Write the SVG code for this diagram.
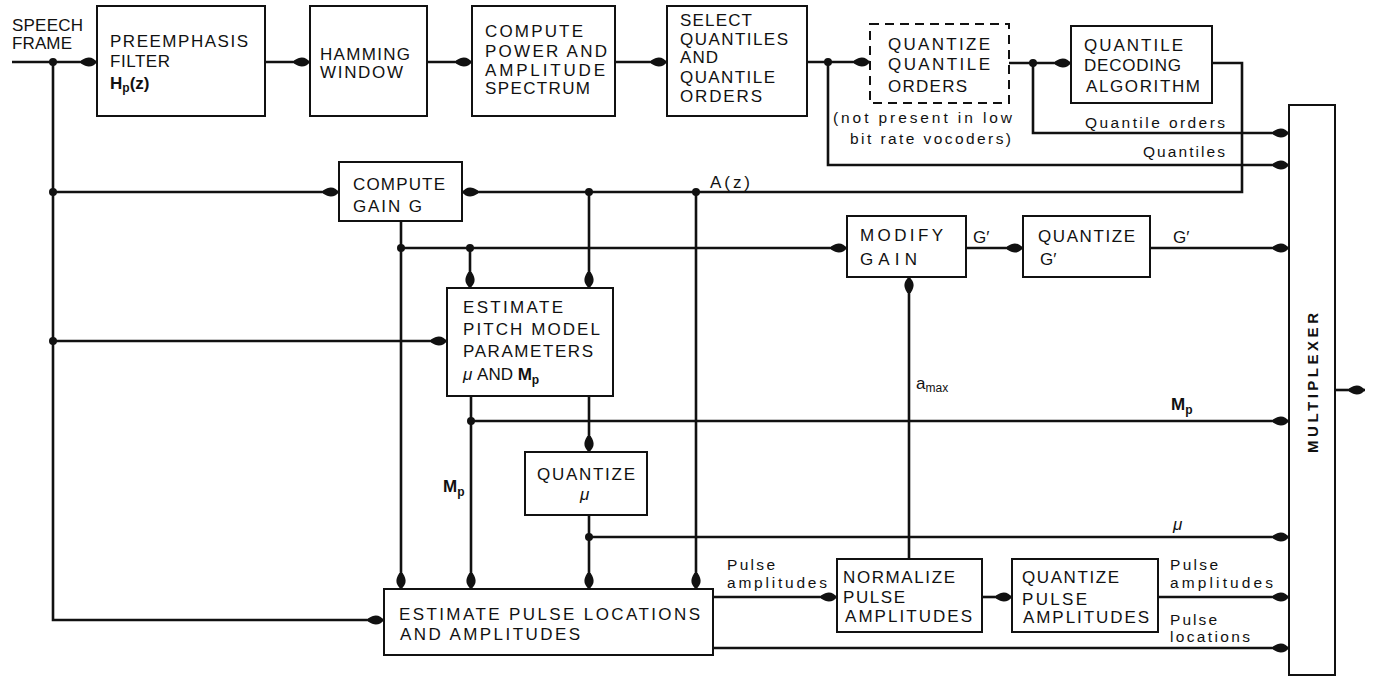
<svg xmlns="http://www.w3.org/2000/svg" width="1373" height="677" viewBox="0 0 1373 677">
<style>
.box{fill:#fff;stroke:#111;stroke-width:2}
.dash{fill:#fff;stroke:#111;stroke-width:2;stroke-dasharray:9 6}
.ln{fill:none;stroke:#111;stroke-width:2.6}
.t{font-family:"Liberation Sans",Arial,sans-serif;font-size:17px;fill:#111}
.s{font-family:"Liberation Sans",Arial,sans-serif;font-size:15.5px;fill:#111}
.b{font-family:"Liberation Sans",Arial,sans-serif;font-size:15px;font-weight:bold;fill:#111}
.m{font-weight:bold}
.sub{font-size:12px}
.dot{fill:#111}
</style>
<defs>
<marker id="arr" viewBox="-17 -7 18 14" refX="0" refY="0" markerWidth="18" markerHeight="14" orient="auto" markerUnits="userSpaceOnUse">
<path d="M0,0 C-4,-5 -9,-6.5 -16,-1.6 L-16,1.6 C-9,6.5 -4,5 0,0 Z" fill="#111"/>
</marker>
</defs>
<rect width="1373" height="677" fill="#fff"/>

<g id="connectors">
<path class="ln" d="M12,62 H97" marker-end="url(#arr)"/>
<path class="ln" d="M53,62 V620 H384" marker-end="url(#arr)"/>
<path class="ln" d="M53,192 H339" marker-end="url(#arr)"/>
<path class="ln" d="M53,341 H447" marker-end="url(#arr)"/>
<path class="ln" d="M265,62 H310" marker-end="url(#arr)"/>
<path class="ln" d="M427,62 H472" marker-end="url(#arr)"/>
<path class="ln" d="M615,62 H667" marker-end="url(#arr)"/>
<path class="ln" d="M807,62 H870" marker-end="url(#arr)"/>
<path class="ln" d="M828,62 V165 H1289" marker-end="url(#arr)"/>
<path class="ln" d="M1009,63 H1071" marker-end="url(#arr)"/>
<path class="ln" d="M1033,63 V133 H1289" marker-end="url(#arr)"/>
<path class="ln" d="M1212,63 H1242 V192 H462" marker-end="url(#arr)"/>
<path class="ln" d="M589,192 V288" marker-end="url(#arr)"/>
<path class="ln" d="M696,192 V589" marker-end="url(#arr)"/>
<path class="ln" d="M401,221 V589" marker-end="url(#arr)"/>
<path class="ln" d="M401,248 H847" marker-end="url(#arr)"/>
<path class="ln" d="M470,248 V288" marker-end="url(#arr)"/>
<path class="ln" d="M471,396 V589" marker-end="url(#arr)"/>
<path class="ln" d="M471,421 H1289" marker-end="url(#arr)"/>
<path class="ln" d="M589,396 V452" marker-end="url(#arr)"/>
<path class="ln" d="M589,515 V589" marker-end="url(#arr)"/>
<path class="ln" d="M589,537 H1289" marker-end="url(#arr)"/>
<path class="ln" d="M713,597 H837" marker-end="url(#arr)"/>
<path class="ln" d="M982,597 H1012" marker-end="url(#arr)"/>
<path class="ln" d="M1158,597 H1289" marker-end="url(#arr)"/>
<path class="ln" d="M713,648 H1289" marker-end="url(#arr)"/>
<path class="ln" d="M909,559 V277" marker-end="url(#arr)"/>
<path class="ln" d="M966,248 H1023" marker-end="url(#arr)"/>
<path class="ln" d="M1150,248 H1289" marker-end="url(#arr)"/>
<path class="ln" d="M1335,390 H1365" marker-end="url(#arr)"/>
<circle class="dot" cx="53" cy="62" r="4"/>
<circle class="dot" cx="53" cy="192" r="4"/>
<circle class="dot" cx="53" cy="341" r="4"/>
<circle class="dot" cx="828" cy="62" r="4"/>
<circle class="dot" cx="1033" cy="63" r="4"/>
<circle class="dot" cx="589" cy="192" r="4"/>
<circle class="dot" cx="696" cy="192" r="4"/>
<circle class="dot" cx="401" cy="248" r="4"/>
<circle class="dot" cx="470" cy="248" r="4"/>
<circle class="dot" cx="471" cy="421" r="4"/>
<circle class="dot" cx="589" cy="537" r="4"/>
</g>

<g id="labels">
<text class="t" x="12" y="31" textLength="71">SPEECH</text>
<text class="t" x="12" y="49" textLength="60">FRAME</text>
<text class="s" x="833" y="123" textLength="179">(not present in low</text>
<text class="s" x="850" y="144" textLength="161">bit rate vocoders)</text>
<text class="s" x="1085" y="128" textLength="140">Quantile orders</text>
<text class="s" x="1143" y="157" textLength="82">Quantiles</text>
<text class="t" x="710" y="188" textLength="40">A(z)</text>
<text class="t" x="973" y="243">G′</text>
<text class="t" x="1173" y="243">G′</text>
<text class="t" x="916" y="389">a<tspan class="sub" dy="3">max</tspan></text>
<text class="t m" x="1171" y="410">M<tspan class="sub" dy="4">p</tspan></text>
<text class="t m" x="443" y="492">M<tspan class="sub" dy="4">p</tspan></text>
<text class="t" x="1173" y="530" font-style="italic">μ</text>
<text class="s" x="727" y="570" textLength="48">Pulse</text>
<text class="s" x="727" y="588" textLength="100">amplitudes</text>
<text class="s" x="1170" y="570" textLength="48">Pulse</text>
<text class="s" x="1170" y="588" textLength="103">amplitudes</text>
<text class="s" x="1170" y="625" textLength="47">Pulse</text>
<text class="s" x="1170" y="642" textLength="80">locations</text>
</g>

<g id="preemphasis">
<rect class="box" x="97" y="6" width="168" height="110"/>
<text class="t" x="110" y="47" textLength="138">PREEMPHASIS</text>
<text class="t" x="110" y="67" textLength="60">FILTER</text>
<text class="t m" x="110" y="89">H<tspan class="sub" dy="3">p</tspan><tspan dy="-3">(z)</tspan></text>
</g>
<g id="hamming">
<rect class="box" x="310" y="6" width="117" height="110"/>
<text class="t" x="320" y="60" textLength="90">HAMMING</text>
<text class="t" x="320" y="78" textLength="83">WINDOW</text>
</g>
<g id="compute-power">
<rect class="box" x="472" y="6" width="143" height="110"/>
<text class="t" x="485" y="37" textLength="98">COMPUTE</text>
<text class="t" x="485" y="57" textLength="122">POWER AND</text>
<text class="t" x="485" y="76" textLength="120">AMPLITUDE</text>
<text class="t" x="485" y="94" textLength="105">SPECTRUM</text>
</g>
<g id="select-quantiles">
<rect class="box" x="667" y="6" width="140" height="110"/>
<text class="t" x="680" y="26" textLength="72">SELECT</text>
<text class="t" x="680" y="45" textLength="108">QUANTILES</text>
<text class="t" x="680" y="63" textLength="38">AND</text>
<text class="t" x="680" y="83" textLength="95">QUANTILE</text>
<text class="t" x="680" y="102" textLength="82">ORDERS</text>
</g>
<g id="quantize-quantile-orders">
<rect class="dash" x="870" y="24" width="139" height="79"/>
<text class="t" x="888" y="50" textLength="102">QUANTIZE</text>
<text class="t" x="888" y="70" textLength="102">QUANTILE</text>
<text class="t" x="888" y="92" textLength="79">ORDERS</text>
</g>
<g id="quantile-decoding">
<rect class="box" x="1071" y="26" width="141" height="77"/>
<text class="t" x="1084" y="51" textLength="99">QUANTILE</text>
<text class="t" x="1084" y="71" textLength="97">DECODING</text>
<text class="t" x="1086" y="92" textLength="114">ALGORITHM</text>
</g>
<g id="multiplexer">
<rect class="box" x="1289" y="105" width="46" height="570"/>
<text class="b" x="0" y="0" textLength="140" text-anchor="middle" transform="translate(1318,383) rotate(-90)">MULTIPLEXER</text>
</g>
<g id="compute-gain">
<rect class="box" x="339" y="162" width="123" height="59"/>
<text class="t" x="353" y="190" textLength="92">COMPUTE</text>
<text class="t" x="353" y="212" textLength="69">GAIN G</text>
</g>
<g id="estimate-pitch">
<rect class="box" x="447" y="288" width="166" height="108"/>
<text class="t" x="463" y="313" textLength="100">ESTIMATE</text>
<text class="t" x="463" y="335" textLength="137">PITCH MODEL</text>
<text class="t" x="463" y="357" textLength="130">PARAMETERS</text>
<text class="t" x="463" y="380"><tspan font-style="italic">μ</tspan>  AND <tspan class="m">M</tspan><tspan class="sub m" dy="4">p</tspan></text>
</g>
<g id="modify-gain">
<rect class="box" x="847" y="216" width="119" height="61"/>
<text class="t" x="860" y="241" textLength="83">MODIFY</text>
<text class="t" x="860" y="265" textLength="57">GAIN</text>
</g>
<g id="quantize-g">
<rect class="box" x="1023" y="216" width="127" height="61"/>
<text class="t" x="1038" y="242" textLength="97">QUANTIZE</text>
<text class="t" x="1040" y="265">G′</text>
</g>
<g id="quantize-mu">
<rect class="box" x="525" y="452" width="122" height="63"/>
<text class="t" x="537" y="480" textLength="98">QUANTIZE</text>
<text class="t" x="580" y="500" font-style="italic">μ</text>
</g>
<g id="estimate-pulse">
<rect class="box" x="384" y="589" width="329" height="66"/>
<text class="t" x="399" y="620" textLength="301">ESTIMATE PULSE LOCATIONS</text>
<text class="t" x="400" y="640" textLength="180">AND AMPLITUDES</text>
</g>
<g id="normalize">
<rect class="box" x="837" y="559" width="145" height="73"/>
<text class="t" x="843" y="583" textLength="112">NORMALIZE</text>
<text class="t" x="843" y="603" textLength="62">PULSE</text>
<text class="t" x="845" y="622" textLength="127">AMPLITUDES</text>
</g>
<g id="quantize-pulse">
<rect class="box" x="1012" y="559" width="146" height="73"/>
<text class="t" x="1022" y="583" textLength="97">QUANTIZE</text>
<text class="t" x="1022" y="605" textLength="65">PULSE</text>
<text class="t" x="1023" y="623" textLength="126">AMPLITUDES</text>
</g>
</svg>
